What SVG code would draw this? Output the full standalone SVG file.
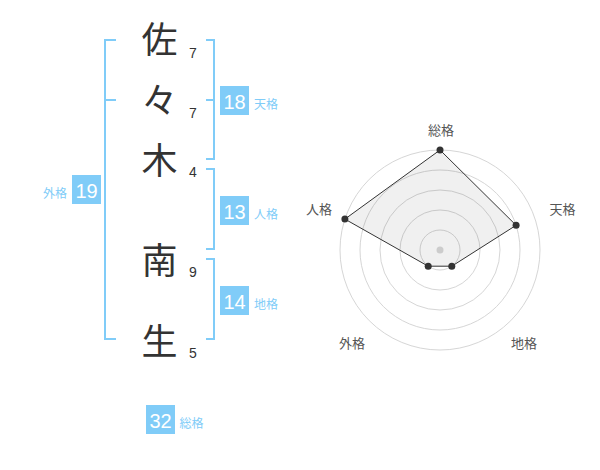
<svg xmlns="http://www.w3.org/2000/svg" width="600" height="470" viewBox="0 0 600 470">
<style>
.ch{font-family:"Noto Sans CJK JP","Noto Sans CJK SC",sans-serif;font-size:36px;fill:#333;text-anchor:middle}
.st{font-family:"Liberation Sans",Arial,sans-serif;font-size:14px;fill:#333}
.br{fill:none;stroke:#80ccf8;stroke-width:2}
.box{fill:#80ccf8}
.num{font-family:"Liberation Sans",Arial,sans-serif;font-size:20px;fill:#fff;text-anchor:middle}
.lb{font-family:"Noto Sans CJK JP","Noto Sans CJK SC",sans-serif;font-size:12px;fill:#80ccf8}
.ring{fill:none;stroke:#d6d6d6;stroke-width:1}
.pl{font-family:"Noto Sans CJK JP","Noto Sans CJK SC",sans-serif;font-size:13px;fill:#555;text-anchor:middle}
.pt{fill:#333}
</style>
<rect width="600" height="470" fill="#fff"/>
<g id="chars">
<g id="c1"><text class="ch" x="159.5" y="52.7">佐</text><text class="st" x="189" y="57.6">7</text></g>
<g id="c2"><text class="ch" x="159.5" y="113.5">々</text><text class="st" x="189" y="117.6">7</text></g>
<g id="c3"><text class="ch" x="159.5" y="173.5">木</text><text class="st" x="189" y="177.3">4</text></g>
<g id="c4"><text class="ch" x="159.5" y="274">南</text><text class="st" x="189" y="276.8">9</text></g>
<g id="c5"><text class="ch" x="159.5" y="355">生</text><text class="st" x="189" y="358.3">5</text></g>
</g>
<g id="connectors">
<path class="br" d="M116,40 H105 V339 H116 M105,100 H116"/>
<path class="br" d="M206,40 H214 V159 H206 M206,100 H214"/>
<path class="br" d="M206,169 H214 V249 H206"/>
<path class="br" d="M206,259 H214 V339 H206"/>
</g>
<g id="tenkaku"><rect class="box" x="220" y="86" width="29" height="29"/><text class="num" x="234.5" y="109">18</text><text class="lb" x="254" y="108.5">天格</text></g>
<g id="jinkaku"><rect class="box" x="220" y="196" width="29" height="29"/><text class="num" x="234.5" y="219">13</text><text class="lb" x="254" y="218.5">人格</text></g>
<g id="chikaku"><rect class="box" x="220" y="286" width="29" height="29"/><text class="num" x="234.5" y="309">14</text><text class="lb" x="254" y="308.5">地格</text></g>
<g id="gaikaku"><rect class="box" x="72" y="175" width="29" height="29"/><text class="num" x="86.5" y="198">19</text><text class="lb" x="67" y="197.5" text-anchor="end">外格</text></g>
<g id="soukaku"><rect class="box" x="146" y="405" width="29" height="29"/><text class="num" x="160.5" y="428">32</text><text class="lb" x="179.5" y="427.5">総格</text></g>
<g id="radar">
<circle class="ring" cx="440" cy="250" r="20"/>
<circle class="ring" cx="440" cy="250" r="40"/>
<circle class="ring" cx="440" cy="250" r="60"/>
<circle class="ring" cx="440" cy="250" r="80"/>
<circle class="ring" cx="440" cy="250" r="100"/>
<polygon points="440,150 516.1,225.3 451.8,266.2 428.2,266.2 344.9,219.1" fill="#000" fill-opacity="0.06" stroke="#333" stroke-width="1"/>
<circle cx="440" cy="250" r="3.5" fill="#ccc"/>
<circle class="pt" cx="440" cy="150" r="3.5"/>
<circle class="pt" cx="516.1" cy="225.3" r="3.5"/>
<circle class="pt" cx="451.8" cy="266.2" r="3.5"/>
<circle class="pt" cx="428.2" cy="266.2" r="3.5"/>
<circle class="pt" cx="344.9" cy="219.1" r="3.5"/>
<text class="pl" x="441" y="135.3">総格</text>
<text class="pl" x="562.5" y="214">天格</text>
<text class="pl" x="524" y="347.7">地格</text>
<text class="pl" x="352" y="347.7">外格</text>
<text class="pl" x="319" y="213.7">人格</text>
</g>
</svg>
